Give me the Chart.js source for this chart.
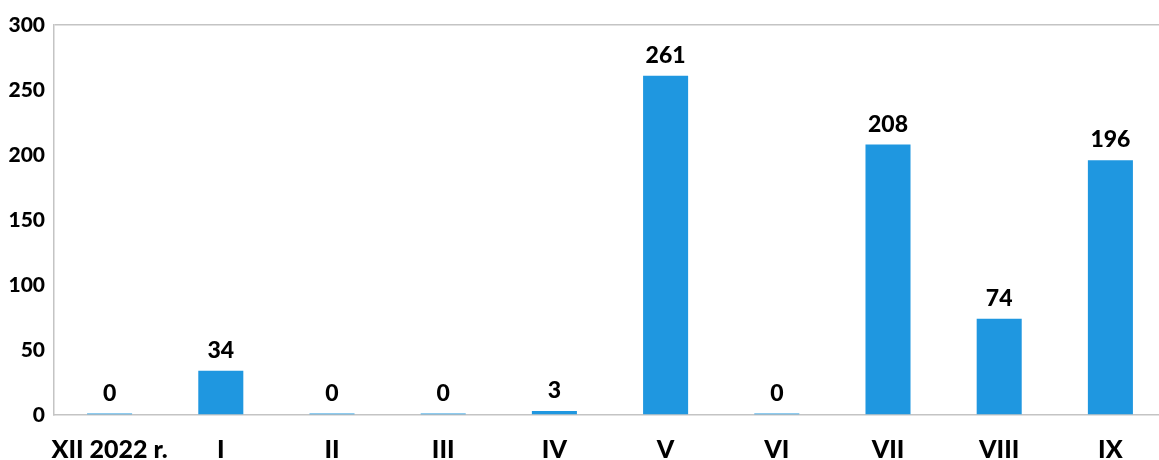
<!DOCTYPE html>
<html>
<head>
<meta charset="utf-8">
<script src="https://cdn.jsdelivr.net/npm/chart.js@4.4.0/dist/chart.umd.min.js"></script>
<style>
html,body{margin:0;padding:0;background:#fff;overflow:hidden;}
#wrap{width:1166px;height:460px;}
</style>
</head>
<body>
<div id="wrap"><canvas id="c" width="1166" height="460"></canvas></div>
<script>
const categories = ["XII 2022 r.", "I", "II", "III", "IV", "V", "VI", "VII", "VIII", "IX"];
const values = [0, 34, 0, 0, 3, 261, 0, 208, 74, 196];
const yTicks = [0, 50, 100, 150, 200, 250, 300];

const FONT = "Lato, 'Liberation Sans', sans-serif";
const GRID = "#c4c4c4";
const W = "900";

const labelPlugin = {
  id: "valueLabels",
  afterDatasetsDraw(chart) {
    const ctx = chart.ctx;
    const meta = chart.getDatasetMeta(0);
    ctx.save();
    ctx.font = W + " 23px " + FONT;
    ctx.fillStyle = "#000";
    ctx.textAlign = "center";
    ctx.textBaseline = "alphabetic";
    meta.data.forEach((bar, i) => {
      const top = Math.min(bar.y, bar.base);
      ctx.fillText(String(values[i]), bar.x, top - 13);
    });
    ctx.restore();
  }
};

new Chart(document.getElementById("c"), {
  type: "bar",
  data: {
    labels: categories,
    datasets: [{
      data: values,
      backgroundColor: "#1f97e0",
      borderWidth: 0,
      barPercentage: 0.405,
      categoryPercentage: 1,
      minBarLength: 1.5
    }]
  },
  plugins: [labelPlugin],
  options: {
    responsive: false,
    animation: false,
    layout: { padding: { top: 25, right: 0, bottom: 0, left: 0 } },
    plugins: { legend: { display: false }, tooltip: { enabled: false } },
    scales: {
      x: {
        afterFit: s => { s.height = 45; },
        grid: { display: false, drawTicks: false },
        border: { display: true, color: GRID, width: 1.5 },
        ticks: { color: "#000", font: { family: FONT, size: 25, weight: W }, padding: 20, maxRotation: 0, autoSkip: false }
      },
      y: {
        min: 0, max: 300,
        afterFit: s => { s.width = 54; },
        afterBuildTicks: s => { s.ticks = yTicks.map(v => ({ value: v })); },
        grid: {
          drawTicks: false,
          lineWidth: 1.5,
          color: c => (c.tick && c.tick.value === 300) ? GRID : "rgba(0,0,0,0)"
        },
        border: { display: true, color: GRID, width: 1.5 },
        ticks: { color: "#000", font: { family: FONT, size: 21, weight: W }, padding: 9 }
      }
    }
  }
});
</script>
</body>
</html>
